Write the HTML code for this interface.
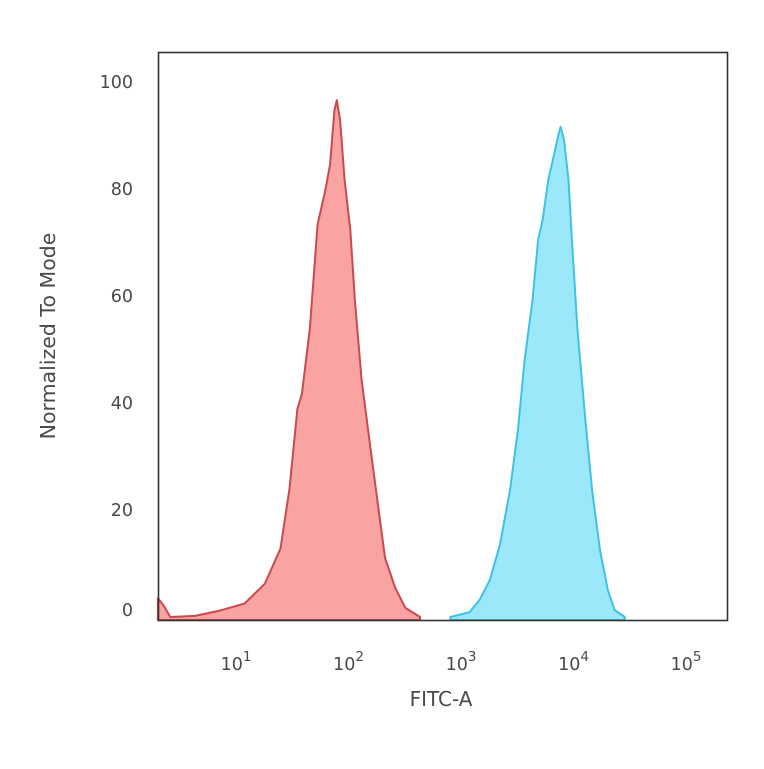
<!DOCTYPE html>
<html><head><meta charset="utf-8">
<style>
body{margin:0;background:#fff;width:764px;height:764px;overflow:hidden}
svg text{font-family:"DejaVu Sans","Liberation Sans",sans-serif;fill:#4a4a4a}
</style></head>
<body>
<svg id="chart" width="764" height="764" viewBox="0 0 764 764">
<g id="plot"></g>
<rect x="158.5" y="52.5" width="569" height="568" fill="none" stroke="#333" stroke-width="1.6"/>
<g id="axes"></g>
<text x="441" y="706" text-anchor="middle" font-size="20">FITC-A</text>
<text transform="translate(55,336) rotate(-90)" text-anchor="middle" font-size="20.5">Normalized To Mode</text>
</svg>
<script>
const redLog=[0.27,0.32,0.38,0.6,0.82,1.04,1.22,1.36,1.44,1.51,1.55,1.62,1.69,1.76,1.8,1.84,1.86,1.89,1.93,1.98,2.02,2.08,2.16,2.23,2.29,2.38,2.47,2.6];
const redVal=[3.5,2.2,0,0.2,1.2,2.5,6.2,12.8,24,38.9,41.7,53.8,73.4,79.9,84.5,94.8,96.6,92.9,81.7,72.4,59.4,44.5,31.5,20.3,11,5.4,1.7,0];
const blueLog=[2.87,3.04,3.13,3.22,3.31,3.4,3.47,3.53,3.6,3.65,3.69,3.74,3.78,3.83,3.85,3.88,3.92,3.95,4.0,4.07,4.13,4.2,4.27,4.33,4.42];
const blueVal=[0,0.9,3.2,6.9,13.5,23.7,34.9,48,59.2,70.5,74.2,81.7,85.4,90.1,91.6,89.2,81.7,70.5,53.6,36.8,23.7,12.5,5,1.3,0];
const yTicks=[0,20,40,60,80,100];
const xTicks=[1,2,3,4,5];
const xs=l=>240+(l-1)*112.5;
const ys=v=>617-v*5.35;
const NS="http://www.w3.org/2000/svg";
const plot=document.getElementById('plot'),axes=document.getElementById('axes');
function area(lx,vals,fill,stroke,name){
  let d="M"+xs(lx[0])+","+Math.min(620,ys(0)+3);
  for(let i=0;i<lx.length;i++)d+=" L"+xs(lx[i]).toFixed(1)+","+Math.min(620,ys(vals[i])).toFixed(1);
  d+=" L"+xs(lx[lx.length-1])+",620 Z";
  const p=document.createElementNS(NS,'path');
  p.setAttribute('d',d);p.setAttribute('fill',fill);p.setAttribute('stroke',stroke);
  p.setAttribute('stroke-width','2');p.setAttribute('stroke-linejoin','round');
  
  
  plot.appendChild(p);
}
area(redLog,redVal,'#f9a3a3','#c94a4d','red-histogram');
area(blueLog,blueVal,'#9ce8fb','#3fc2e2','blue-histogram');
yTicks.forEach(v=>{
  const t=document.createElementNS(NS,'text');
  t.setAttribute('x','133');t.setAttribute('y',(ys(v)+6-(v===0?7:0)).toFixed(1));
  t.setAttribute('text-anchor','end');t.setAttribute('font-size','17.5');
  
  
  t.textContent=v;axes.appendChild(t);
});
xTicks.forEach(e=>{
  const t=document.createElementNS(NS,'text');
  t.setAttribute('x',(xs(e)-4).toFixed(1));t.setAttribute('y','670');
  t.setAttribute('text-anchor','middle');t.setAttribute('font-size','17.5');
  
  
  t.innerHTML='10<tspan dy="-9" font-size="13.5">'+e+'</tspan>';
  axes.appendChild(t);
});
</script>
</body></html>
